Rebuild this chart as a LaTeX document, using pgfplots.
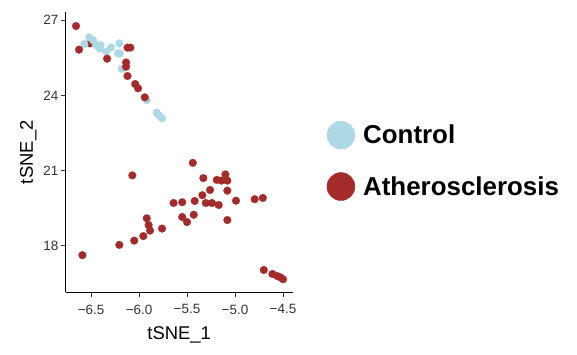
\documentclass[border=0pt]{standalone}
\usepackage{pgfplots}
\pgfplotsset{compat=1.18}
\usepackage{fontspec}
\setmainfont{Liberation Sans}
\definecolor{ctrlblue}{RGB}{173,216,230}
\definecolor{athred}{RGB}{165,42,42}
\definecolor{tickgray}{RGB}{51,51,51}
\begin{document}
\begin{tikzpicture}
\begin{axis}[
  at={(0,0)}, anchor=south west,
  scale only axis,
  width=227bp, height=279.5bp,
  xmin=-6.764, xmax=-4.399,
  ymin=16.163, ymax=27.30,
  axis x line*=bottom, axis y line*=left,
  axis line style={-, line width=0.8bp, black},
  xtick={-6.5,-6,-5.5,-5,-4.5},
  xticklabels={−6.5,−6.0,−5.5,−5.0,−4.5},
  ytick={18,21,24,27},
  yticklabels={18,21,24,27},
  tick align=outside,
  major tick length=4.5bp,
  tick style={line width=0.8bp, tickgray},
  ticklabel style={font=\fontsize{13.5}{15}\selectfont, text=tickgray},
  xticklabel style={inner sep=0pt, yshift=-8bp},
  yticklabel style={inner sep=0pt, xshift=-2.7bp},
  xlabel={tSNE\_1},
  ylabel={tSNE\_2},
  label style={font=\fontsize{18.5}{20}\selectfont},
  xlabel style={at={(axis description cs:0.5,-0.1717)}, anchor=base, inner sep=0pt},
  ylabel style={at={(axis description cs:-0.1441,0.5)}, anchor=base, rotate=0, inner sep=0pt},
  legend cell align=left,
  legend style={draw=none, fill=none, inner sep=0pt, outer sep=0pt,
    at={(axis description cs:1.15,0.612)}, anchor=north west,
    row sep=23bp, column sep=8bp,
    nodes={inner sep=0pt},
    font=\bfseries\fontsize{26}{30}\selectfont},
  clip=false,
]
% a red point partly hidden by the blue ones
\addplot[only marks, athred, mark=*, mark size=3.9bp, mark options={solid, line width=0.2bp, draw=athred, fill=athred}, forget plot]
  coordinates {(-6.51,26.07)};
\addplot[only marks, ctrlblue, mark=*, mark size=3.9bp, mark options={solid, line width=0.2bp, draw=ctrlblue, fill=ctrlblue},
  legend image code/.code={\fill[ctrlblue] (0bp,0bp) circle (14bp);}]
  coordinates {
(-6.57,26.04) (-6.52,26.31) (-6.48,26.20) (-6.45,26.00) (-6.40,26.00)
(-6.41,25.86) (-6.34,25.74) (-6.29,25.91) (-6.205,26.07) (-6.22,25.67)
(-6.20,25.67) (-6.18,25.05) (-5.92,23.81) (-5.816,23.31) (-5.79,23.19)
(-5.76,23.08)
};
\addlegendentry{Control}
\addplot[only marks, athred, mark=*, mark size=3.9bp, mark options={solid, line width=0.2bp, draw=athred, fill=athred},
  legend image code/.code={\fill[athred] (0bp,0bp) circle (14bp);}]
  coordinates {
(-6.656,26.76) (-6.625,25.82) (-6.333,25.46) (-6.12,25.90) (-6.09,25.90)
(-6.135,25.31) (-6.135,25.14) (-6.12,24.77) (-6.04,24.45) (-6.01,24.28)
(-5.94,23.92)
(-6.59,17.63) (-6.205,18.04) (-6.05,18.21) (-5.955,18.39) (-5.92,19.10)
(-5.90,18.83) (-5.885,18.61) (-6.07,20.81) (-5.76,18.69) (-5.64,19.71)
(-5.55,19.74) (-5.55,19.15) (-5.50,18.95) (-5.43,19.24) (-5.42,19.79)
(-5.44,21.31) (-5.33,20.70) (-5.34,20.02) (-5.26,20.23) (-5.305,19.71)
(-5.24,19.71) (-5.17,19.63) (-5.19,20.63) (-5.10,20.85) (-5.14,20.60)
(-5.08,20.60) (-5.08,20.20) (-4.99,19.80) (-5.08,19.03) (-4.795,19.86)
(-4.71,19.91) (-4.70,17.04) (-4.61,16.88) (-4.56,16.80) (-4.53,16.75)
(-4.50,16.67)
};
\addlegendentry{Atherosclerosis}
\end{axis}
\pgfresetboundingbox
\useasboundingbox (-65.7bp,-63bp) rectangle (511.3bp,292bp);
\end{tikzpicture}
\end{document}
